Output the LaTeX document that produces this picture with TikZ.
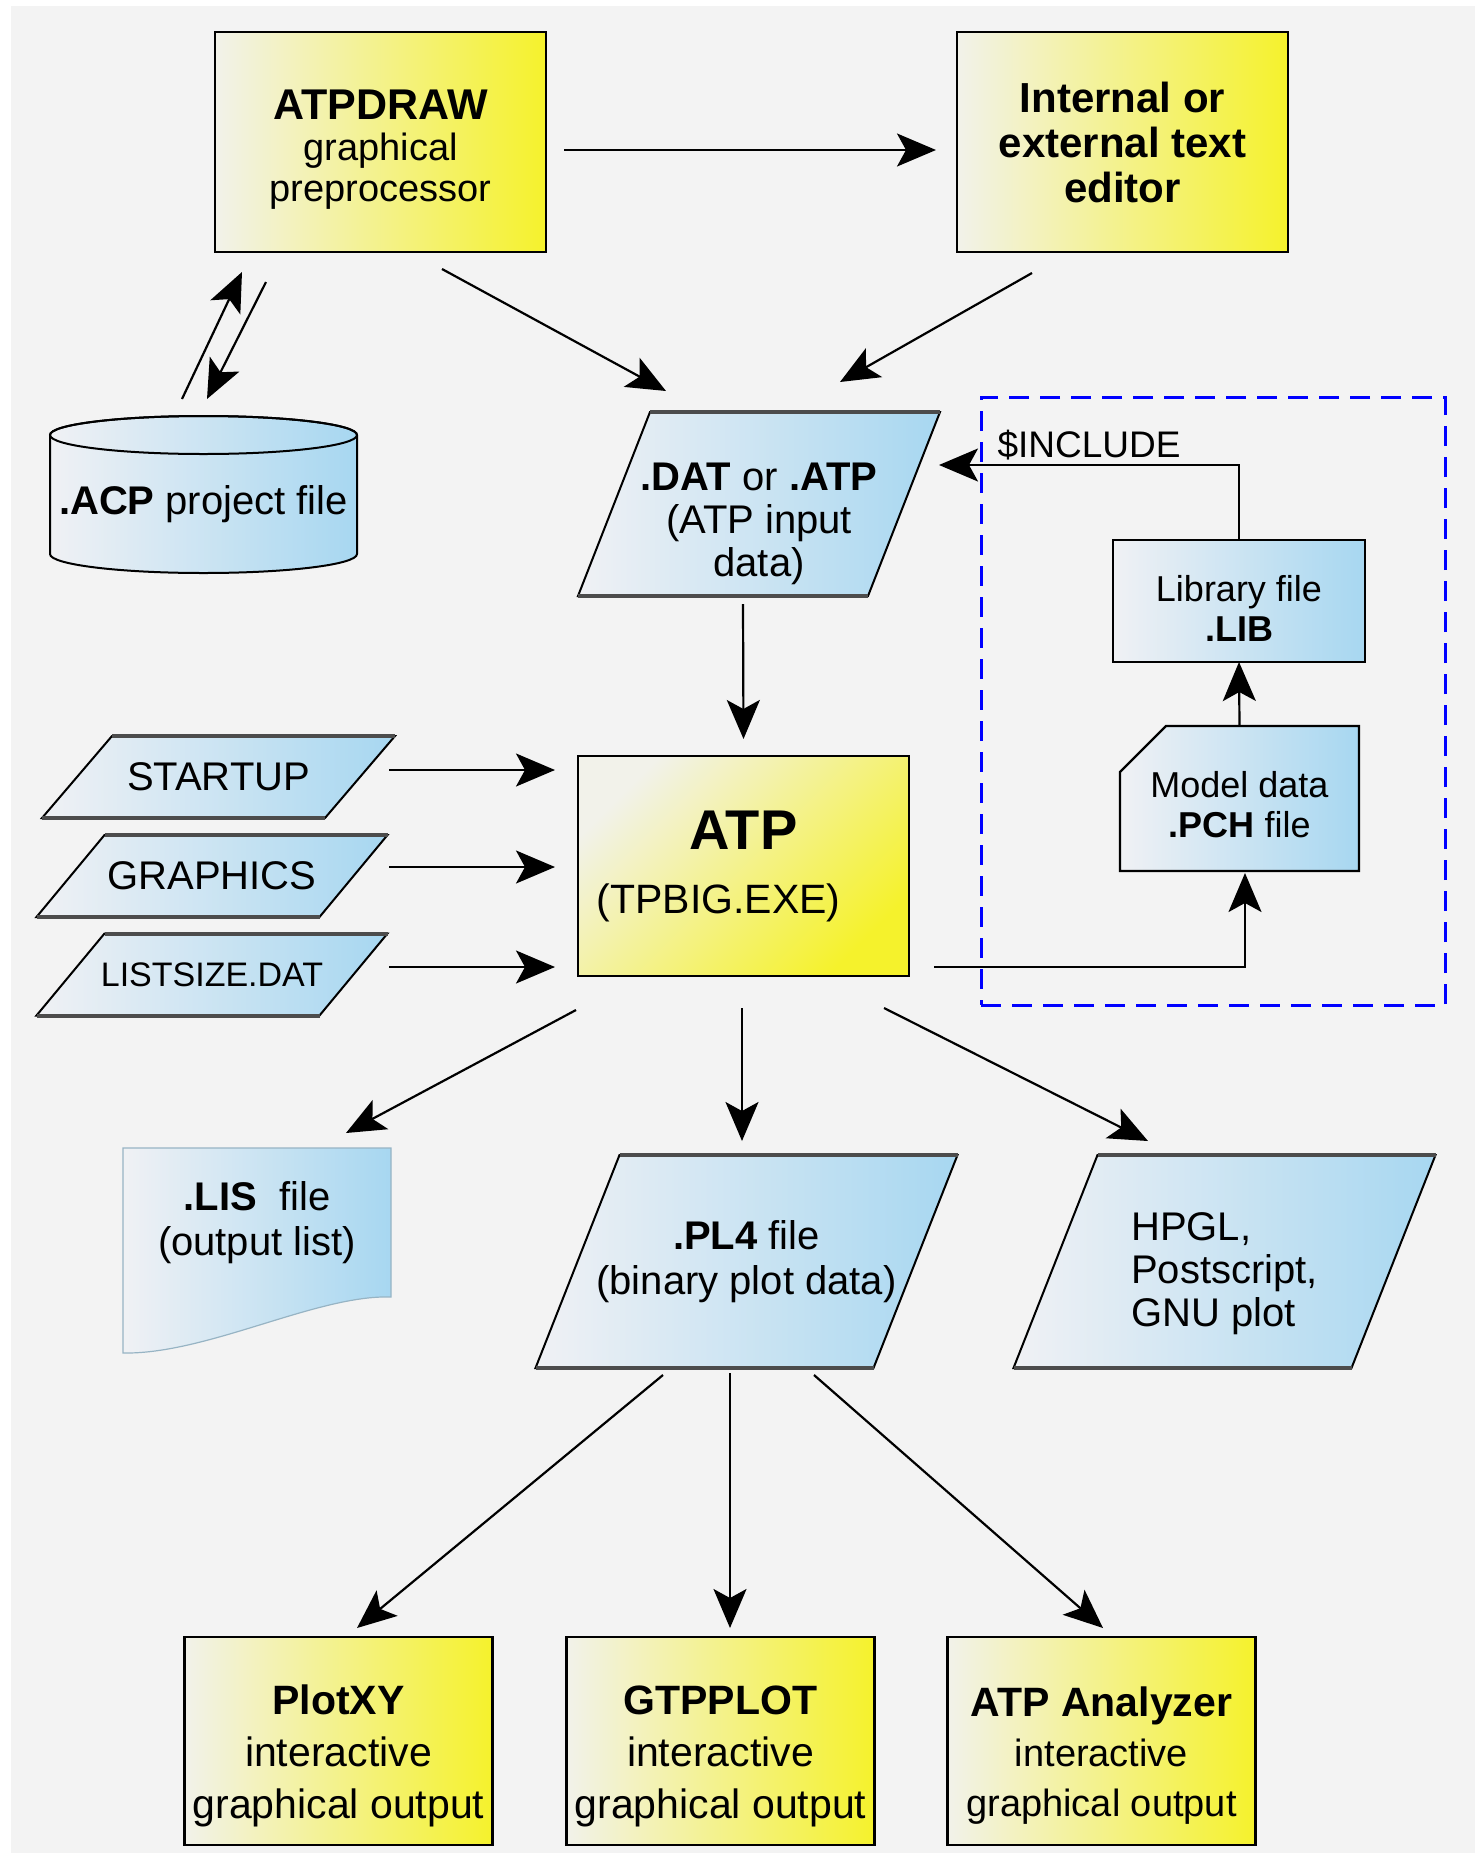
\documentclass[tikz,border=0pt]{standalone}
\usepackage{fontspec}
\setmainfont{Liberation Sans}
\usepackage{xcolor}
\usetikzlibrary{arrows.meta,positioning,shapes.misc,calc,backgrounds}

\definecolor{paper}{HTML}{F3F3F3}
\definecolor{ylwA}{HTML}{F2F2EA}
\definecolor{ylwB}{HTML}{F5F22C}
\definecolor{bluA}{HTML}{F0F1F4}
\definecolor{bluB}{HTML}{A7D7F1}

% slanted data sheet behind a node: #1 node, #2 half of the slant (px)
\newcommand{\slantsheet}[2]{%
	\path[draw, line width=1pt, left color=bluA, right color=bluB]
		($(#1.south west)+(-#2,0)$) -- ($(#1.north west)+(#2,0)$) -- ($(#1.north east)+(#2,0)$) -- ($(#1.south east)+(-#2,0)$) -- cycle;
	\draw[line width=2pt, black!70] ($(#1.north west)+(#2,0)$) -- ($(#1.north east)+(#2,0)$);
	\draw[line width=2pt, black!70] ($(#1.south west)+(-#2,0)$) -- ($(#1.south east)+(-#2,0)$);}

\begin{document}
\begin{tikzpicture}[
	x=0.5pt, y=-0.5pt,
	font=\fontsize{20}{22}\selectfont,
	ybox/.style={rectangle, draw, line width=1.2pt, inner sep=0pt, outer sep=0pt, align=center, left color=ylwA, right color=ylwB},
	bbox/.style={rectangle, draw, line width=1.2pt, inner sep=0pt, outer sep=0pt, align=center, left color=bluA, right color=bluB},
	datafile/.style={rectangle, inner sep=0pt, outer sep=0pt, align=center, minimum width=169pt, minimum height=106.5pt},
	cfgfile/.style={datafile, minimum width=141.5pt, minimum height=41pt},
	tool/.style={ybox, minimum width=154pt, minimum height=104pt, font=\fontsize{20.5}{26}\selectfont},
	arr/.style={-{Stealth[length=19.5pt, width=16.5pt, inset=4.5pt]}, line width=1.1pt}
]
\useasboundingbox (0,0) rectangle (1475,1853);

% preprocessor and editor
\node[ybox, minimum width=165.5pt, minimum height=110pt, font=\fontsize{19}{20.5}\selectfont] (atpdraw) at (380.5,142) {\rule{0pt}{22.4pt}{\fontsize{21.5}{20.5}\selectfont\bfseries ATPDRAW}\\graphical\\preprocessor};
\node[ybox, minimum width=165.5pt, minimum height=110pt, font=\fontsize{21}{22.5}\selectfont\bfseries] (editor) at (1122.5,142) {Internal or\\external text\\editor};

% project file (cylinder drawn by hand)
\begin{scope}[shift={(203.5,494.5)}, line width=1pt]
	\path[draw, left color=bluA, right color=bluB] (-153.5,-59.5) -- (-153.5,59.5) arc[start angle=180, end angle=0, x radius=153.5, y radius=19] -- (153.5,-59.5) arc[start angle=0, end angle=-180, x radius=153.5, y radius=19] -- cycle;
	\draw (0,-59.5) ellipse[x radius=153.5, y radius=19];
\end{scope}
\node[minimum width=153.5pt, minimum height=78.5pt, inner sep=0pt, outer sep=0pt] (acp) at (203.5,494.5) {\rule{0pt}{24pt}\textbf{.ACP} project file};

\node[datafile, minimum width=145pt, minimum height=92pt, font=\fontsize{20}{21.5}\selectfont] (dat) at (759,504) {\rule{0pt}{33.5pt}\textbf{.DAT} or \textbf{.ATP}\\(ATP input\\data)};

% library / punch files
\node[draw=blue, line width=1.5pt, dash pattern=on 10pt off 5.5pt, minimum width=232pt, minimum height=304pt, inner sep=0pt] (incl) at (1213,701) {};
\node[bbox, minimum width=126pt, minimum height=61pt, font=\fontsize{18}{20}\selectfont] (lib) at (1239,601) {\rule{0pt}{20pt}Library file\\\textbf{.LIB}};
\node[bbox, chamfered rectangle, chamfered rectangle corners=north west, chamfered rectangle xsep=11.5pt, chamfered rectangle ysep=11.5pt, minimum width=119.5pt, minimum height=72.5pt, font=\fontsize{18}{20}\selectfont] (pch) at (1239.5,798.5) {\rule{0pt}{19pt}Model data\\\textbf{.PCH} file};

% ATP itself and its start files
\node[ybox, top color=ylwA, bottom color=ylwB, shading angle=45, minimum width=165.5pt, minimum height=110pt, font=\fontsize{20.5}{22}\selectfont] (atp) at (743.5,866) {{\fontsize{28}{30}\selectfont\bfseries ATP}\\[10pt](TPBIG.EXE)\hspace*{25pt}};
\node[cfgfile] (startup) at (218.5,777) {STARTUP};
\node[cfgfile] (graphics) at (212,876) {GRAPHICS};
\node[cfgfile, font=\fontsize{17}{20}\selectfont] (listsize) at (212,974.5) {LISTSIZE.DAT};

% output files
\begin{scope}[shift={(257,1250.5)}]
	\path[draw=bluB!60!gray, line width=0.6pt, left color=bluA, right color=bluB] (-134,-102.5) -- (134,-102.5) -- (134,46.5) .. controls (60,44) and (-50,104) .. (-134,102.5) -- cycle;
\end{scope}
\node[minimum width=134pt, minimum height=74.5pt, inner sep=0pt, outer sep=0pt, align=center, font=\fontsize{20}{22.5}\selectfont] (lis) at (257,1222.5) {\textbf{.LIS}\ \ file\\(output list)};
\node[datafile, font=\fontsize{20}{22.5}\selectfont] (pl4) at (746.5,1261.5) {\textbf{.PL4} file\\(binary plot data)};
\node[datafile, align=left, font=\fontsize{20}{21.5}\selectfont] (hpgl) at (1224.5,1261.5) {\rule{0pt}{26.4pt}HPGL,\\Postscript,\\GNU plot};

% plot programs
\node[tool] (plotxy) at (338.5,1741) {\rule{0pt}{30pt}\textbf{PlotXY}\\interactive\\graphical output};
\node[tool] (gtpplot) at (720.5,1741) {\rule{0pt}{30pt}\textbf{GTPPLOT}\\interactive\\graphical output};
\node[tool, font=\fontsize{19}{25}\selectfont] (analyzer) at (1101.5,1741) {\rule{0pt}{29pt}{\fontsize{20.5}{25}\selectfont\bfseries ATP Analyzer}\\interactive\\graphical output};

\begin{scope}[on background layer]
	\fill[paper] (11,6) rectangle (1475,1853);
	\slantsheet{dat}{36}
	\slantsheet{startup}{35}
	\slantsheet{graphics}{34}
	\slantsheet{listsize}{34}
	\slantsheet{pl4}{42}
	\slantsheet{hpgl}{42}
\end{scope}

\draw[arr] ($(atpdraw.east)+(18,8)$) -- ($(editor.west)+(-21,8)$);
\draw[arr] ($(acp.north)+(-21.5,-17)$) -- ($(atpdraw.south)+(-138.5,20)$);
\draw[arr] ($(atpdraw.south)+(-114.5,30)$) -- ($(acp.north)+(3.5,-17)$);
\draw[arr] ($(atpdraw.south)+(61.5,17)$) -- ($(dat.center)+(-93,-113)$);
\draw[arr] ($(editor.south)+(-90.5,21)$) -- ($(dat.center)+(81,-122)$);
\draw[arr] ($(dat.center)+(-16,100)$) -- ($(atp.north)+(0,-17)$);
\draw[arr] (lib.north) |- node[pos=0.75, above, inner sep=2pt, font=\fontsize{18.5}{20}\selectfont]{\$INCLUDE} ($(dat.center)+(180,-39)$);
\draw[arr] (pch.north) -- (lib.south);
\draw[arr] ($(atp.south east)+(25,-9)$) -| ($(pch.south)+(5.5,2)$);
\draw[arr] ($(startup.center)+(170.5,-7)$) -- ($(atp.west)+(-23,-96)$);
\draw[arr] ($(graphics.center)+(177,-9)$) -- ($(atp.west)+(-23,1)$);
\draw[arr] ($(listsize.center)+(177,-7.5)$) -- ($(atp.west)+(-23,101)$);
\draw[arr] ($(atp.south west)+(-2,34)$) -- ($(lis.north)+(89,-15)$);
\draw[arr] ($(atp.south)+(-1.5,32)$) -- ($(pl4.center)+(-4.5,-120.5)$);
\draw[arr] ($(atp.south east)+(-25,32)$) -- ($(hpgl.center)+(-76.5,-120.5)$);
\draw[arr] ($(pl4.center)+(-83.5,113.5)$) -- ($(plotxy.north)+(18.5,-9)$);
\draw[arr] ($(pl4.center)+(-16.5,111.5)$) -- ($(gtpplot.north)+(9.5,-9)$);
\draw[arr] ($(pl4.center)+(67.5,113.5)$) -- ($(analyzer.north)+(1.5,-9)$);
\end{tikzpicture}
\end{document}
